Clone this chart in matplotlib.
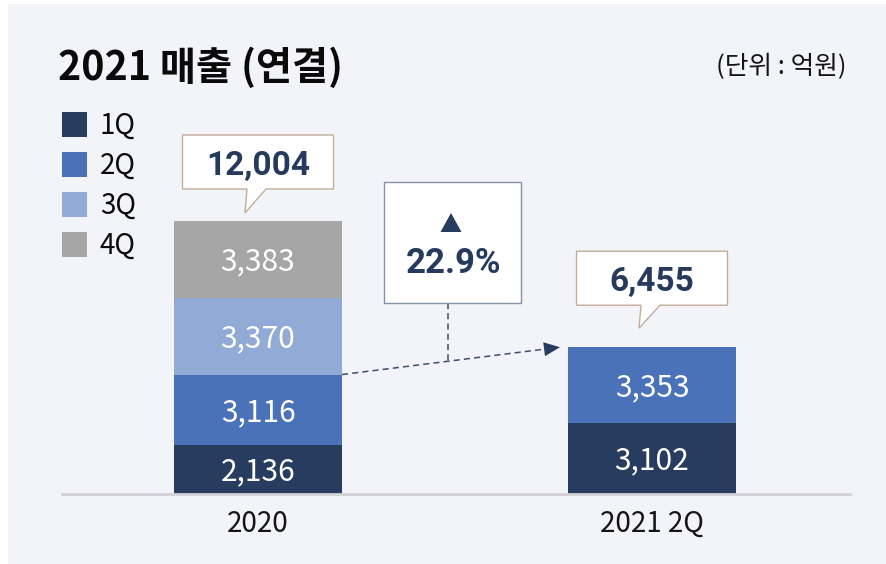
import math
import matplotlib
matplotlib.use('Agg')
import matplotlib.pyplot as plt
from matplotlib.patches import Rectangle, Polygon
from matplotlib import font_manager as fm
from matplotlib.transforms import offset_copy

# ---------------- data ----------------
categories = ['2020', '2021 2Q']
quarters = ['1Q', '2Q', '3Q', '4Q']
q1_values = [2136, 3102]
q2_values = [3116, 3353]
q3_values = [3370, 0]
q4_values = [3383, 0]
totals = [12004, 6455]
growth_pct = 22.9
title_text = '2021 매출 (연결)'
unit_text = '(단위 : 억원)'

# ---------------- style ----------------
colors = ['#283C5F', '#4A72B8', '#92AAD6', '#A6A6A6']
bg = '#F3F4F9'
navy = '#263A5E'
W, H, DPI = 886, 564, 100

plt.rcParams['font.family'] = ['Noto Sans CJK KR', 'DejaVu Sans']


def weight_of(f):
    w = f.weight
    if isinstance(w, str):
        w = fm.weight_dict.get(w, 400)
    return w


def has_weight(name, lo, hi):
    return any(f.name == name and lo <= weight_of(f) <= hi
               for f in fm.fontManager.ttflist)


if has_weight('Noto Sans CJK KR', 320, 380):
    val_weight = 350
elif has_weight('Noto Sans CJK KR', 250, 320):
    val_weight = 'normal'
else:
    val_weight = 'normal'
base_family = ['Noto Sans CJK KR', 'DejaVu Sans']
num_family = ['Roboto', 'Noto Sans CJK KR', 'DejaVu Sans']

fig = plt.figure(figsize=(W / DPI, H / DPI), dpi=DPI, facecolor='white')
fig.patches.append(Rectangle((8 / W, 0), (W - 8) / W, (H - 4) / H,
                             transform=fig.transFigure, facecolor=bg,
                             edgecolor='none', zorder=-5))

# main axes: baseline at pixel 494, category centres at 258 / 652
base_px, top_px = 494, 100
left_px, right_px = 62, 850
ax = fig.add_axes([left_px / W, (H - base_px) / H,
                   (right_px - left_px) / W, (base_px - top_px) / H])
ax.patch.set_alpha(0)
ax.set_zorder(1)
unit_px = 394.0
ax.set_xlim((left_px - 258) / unit_px, (right_px - 258) / unit_px)
px_per_val = 273.0 / 12004
ax.set_ylim(0, (base_px - top_px) / px_per_val)
bar_w = 168 / unit_px

x = list(range(len(categories)))
series = [q1_values, q2_values, q3_values, q4_values]
bottoms = [0] * len(categories)
val_fs = 21.5
cap = 0.73 * val_fs  # points, cap height of value labels
val_tr = offset_copy(ax.transData, fig=fig, y=-cap / 2, units='points')
for qi, vals in enumerate(series):
    ax.bar(x, vals, width=bar_w, bottom=bottoms, color=colors[qi],
           edgecolor='none', zorder=2)
    for xi, v, b in zip(x, vals, bottoms):
        if v > 0:
            ax.text(xi, b + v / 2, f'{v:,}', ha='center', va='baseline',
                    color='white', fontsize=val_fs, family=base_family,
                    weight=val_weight, transform=val_tr, zorder=3)
    bottoms = [b + v for b, v in zip(bottoms, vals)]

for s in ['top', 'right', 'left']:
    ax.spines[s].set_visible(False)
ax.spines['bottom'].set_color('#D2D2D6')
ax.spines['bottom'].set_linewidth(2)
ax.set_yticks([])
ax.set_xticks(x)
ax.set_xticklabels(categories, fontsize=20, color='#151515',
                   family=base_family, weight=val_weight)
ax.tick_params(axis='x', length=0, pad=11)

# overlay axes in pixel coordinates for annotations
ov = fig.add_axes([0, 0, 1, 1])
ov.set_xlim(0, W)
ov.set_ylim(H, 0)
ov.axis('off')
ov.patch.set_alpha(0)
ov.set_zorder(5)


def d2p(xv, yv):
    X, Y = ax.transData.transform((xv, yv))
    return X, H - Y


# title & unit
ov.text(58, 80, title_text, fontsize=28.3, weight='bold', color='#0A0A0A',
        ha='left', va='baseline')
ov.text(847, 74, unit_text, fontsize=18.5, color='#151515', ha='right',
        va='baseline')

# legend (manual)
for i, (q, c) in enumerate(zip(quarters, colors)):
    cy = 124.5 + 40 * i
    ov.add_patch(Rectangle((62, cy - 12.5), 25, 25, facecolor=c,
                           edgecolor='none'))
    ov.text(100, cy + 9, q, fontsize=20, color='#0A0A0A', ha='left',
            va='baseline')

# total callouts
box_w, box_h = 151, 54
gaps = [32, 42]       # gap between bar top and callout box bottom (px)
tip_gaps = [8, 19]
for xi, tot, g, tg in zip(x, totals, gaps, tip_gaps):
    cx, ty = d2p(xi, tot)
    bx0, by1 = cx - box_w / 2, ty - g
    by0 = by1 - box_h
    tail_l, tail_r = cx - 11, cx + 8
    tip = (cx - 13, ty - tg)
    pts = [(bx0, by0), (bx0 + box_w, by0), (bx0 + box_w, by1), (tail_r, by1),
           tip, (tail_l, by1), (bx0, by1)]
    ov.add_patch(Polygon(pts, closed=True, facecolor='white',
                         edgecolor='#C2AE98', linewidth=1.0, zorder=6))
    ov.text(cx, (by0 + by1) / 2 + 13, f'{tot:,}', fontsize=24,
            weight='bold', family=num_family, color=navy, ha='center',
            va='baseline', zorder=7)

# connecting dashed arrow (top of 2020 H1 -> top of 2021 H1)
h1_2020 = q1_values[0] + q2_values[0]
sx, sy = d2p(x[0] + bar_w / 2, h1_2020)
ex, ey = d2p(x[1] - bar_w / 2, totals[1])
ex -= 8
ang = math.atan2(ey - sy, ex - sx)
hl, hw = 16, 7
bxh, byh = ex - hl * math.cos(ang), ey - hl * math.sin(ang)
ov.plot([sx, bxh], [sy, byh], color='#3E4E6E', lw=1.1, dashes=(4, 2.7),
        zorder=6)
nx, ny = -math.sin(ang), math.cos(ang)
ov.add_patch(Polygon([(ex, ey), (bxh + hw * nx, byh + hw * ny),
                      (bxh - hw * nx, byh - hw * ny)], closed=True,
                     facecolor='#283C5F', edgecolor='none', zorder=6))

# growth box
gx0, gx1, gy0, gy1 = 384, 521, 182, 303
vx = 448
vy = sy + (ey - sy) * (vx - sx) / (ex - sx)
ov.plot([vx, vx], [gy1, vy], color='#3E4E6E', lw=1.1, dashes=(4, 2.7),
        zorder=6)
ov.add_patch(Rectangle((gx0, gy0), gx1 - gx0, gy1 - gy0, facecolor='white',
                       edgecolor='#8392AA', linewidth=1.0, zorder=6))
gcx = (gx0 + gx1) / 2
ov.add_patch(Polygon([(gcx - 1.5 - 10.5, 232), (gcx - 1.5 + 10.5, 232),
                      (gcx - 1.5, 213)], closed=True, facecolor='#283C5F',
                     edgecolor='none', zorder=7))
ov.text(gcx + 1, 273, f'{growth_pct:.1f}%', fontsize=25, weight='bold',
        family=num_family, color=navy, ha='center', va='baseline', zorder=7)

fig.savefig('out.png', dpi=DPI, facecolor=fig.get_facecolor())
